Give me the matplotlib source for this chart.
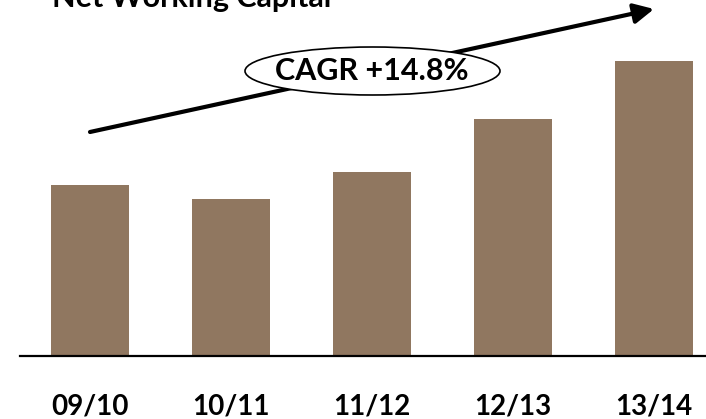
import matplotlib
matplotlib.use("Agg")
import matplotlib.pyplot as plt
from matplotlib.patches import Ellipse

plt.rcParams['font.family'] = ['Lato', 'DejaVu Sans']

# Data (arbitrary units)
years = ['09/10', '10/11', '11/12', '12/13', '13/14']
net_working_capital = [170, 156, 183, 236, 294]
title = 'Net Working Capital'
cagr_label = 'CAGR +14.8%'

W, H = 706, 419
fig = plt.figure(figsize=(W / 100, H / 100), dpi=100)

base_px = 355.5
ax = fig.add_axes([20 / W, (H - base_px) / H, 1 - 20 / W, base_px / H])

x = range(len(years))
ax.bar(x, net_working_capital, width=0.55, color='#907760', zorder=2)

ax.set_xlim(-70 / 141, (W - 90) / 141)
ax.set_ylim(0, base_px)

for side in ['top', 'right', 'left']:
    ax.spines[side].set_visible(False)
ax.spines['bottom'].set_linewidth(1.6)
ax.spines['bottom'].set_color('black')
ax.set_yticks([])
ax.set_xticks(list(x))
ax.set_xticklabels(years, fontsize=20, fontweight='bold')
ax.tick_params(axis='x', length=0, pad=27)

# growth arrow
ax.annotate('', xy=(654, H - 9), xytext=(90, H - 132),
            xycoords='figure pixels', textcoords='figure pixels',
            arrowprops=dict(arrowstyle='-|>,head_length=0.4,head_width=0.2',
                            mutation_scale=30, lw=3, color='black',
                            shrinkA=0, shrinkB=0))

# CAGR bubble
ell = Ellipse((372.5 / W, (H - 71) / H), 255 / W, 48 / H,
              transform=fig.transFigure, facecolor='white',
              edgecolor='black', lw=1.2, zorder=5)
fig.add_artist(ell)
fig.text(372 / W, (H - 71) / H, cagr_label, fontsize=22, fontweight='bold',
         ha='center', va='center', zorder=6)

# title sits partly above the top edge, as in the original slide crop
fig.text(52 / W, (H - 7) / H, title, fontsize=22, fontweight='bold',
         ha='left', va='baseline')

plt.savefig('out.png', dpi=100)
